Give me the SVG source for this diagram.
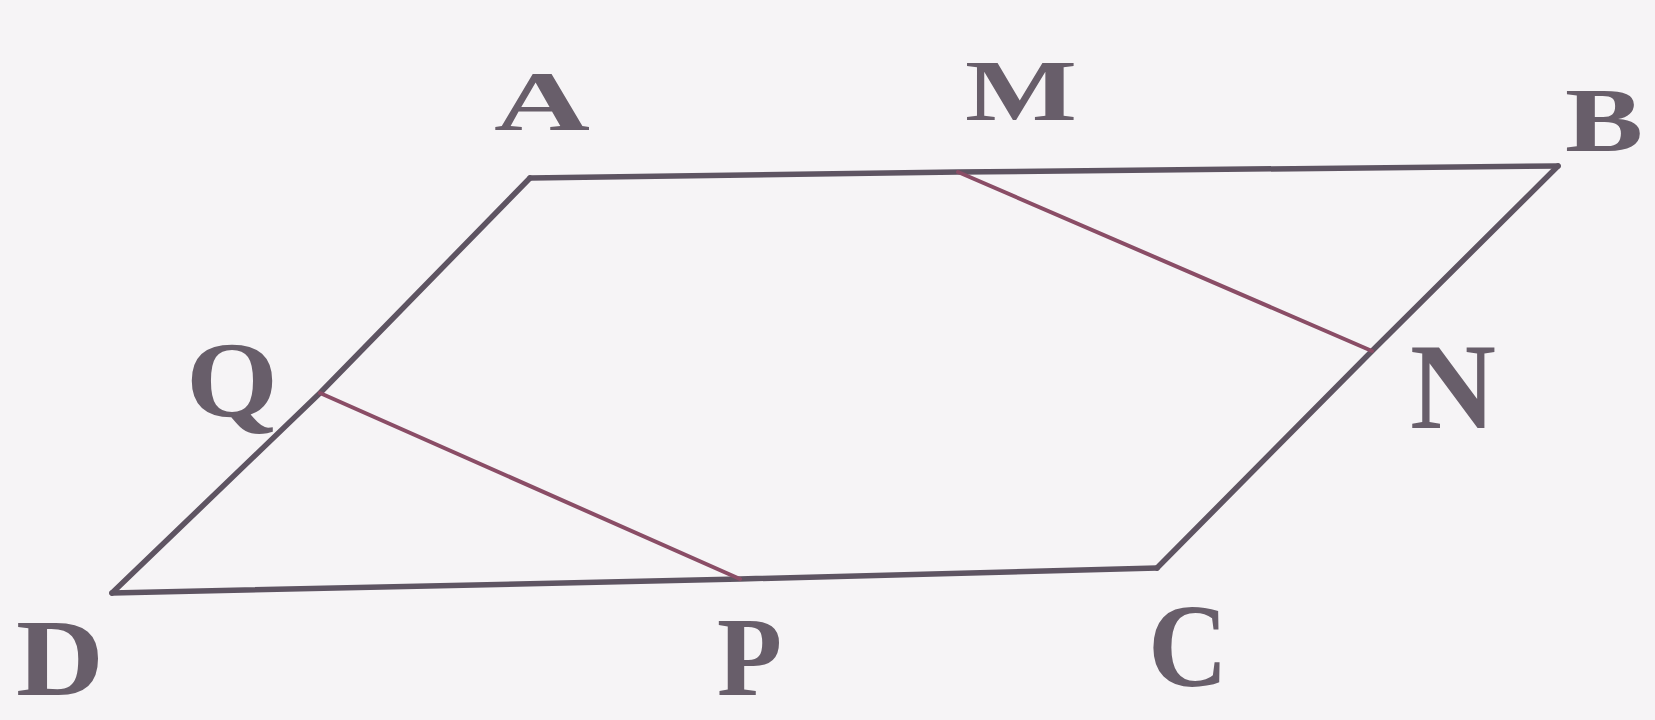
<svg xmlns="http://www.w3.org/2000/svg" width="1655" height="720" viewBox="0 0 1655 720">
<style>
.edge{fill:none;stroke:#5e5462;stroke-width:5.5;stroke-linejoin:round;stroke-linecap:round}
.seg{fill:none;stroke:#8a4d66;stroke-width:4;stroke-linecap:round}
.lbl{font-family:'Liberation Serif','Times New Roman',Times,serif;font-weight:700;fill:#685e6a}
</style>
<rect width="1655" height="720" fill="#f6f4f6"/>
<g id="connectors">
<polyline class="edge" points="530,178 958,172 1558,166"/>
<polyline class="edge" points="1558,166 1372,351 1157,568"/>
<polyline class="edge" points="1157,568 740,579 112,593"/>
<polyline class="edge" points="112,593 320,393 530,178"/>
<line class="seg" x1="958" y1="172" x2="1372" y2="351"/>
<line class="seg" x1="320" y1="393" x2="740" y2="579"/>
</g>
<g id="A"><text class="lbl" x="494" y="130" font-size="84" textLength="96" lengthAdjust="spacingAndGlyphs">A</text></g>
<g id="M"><text class="lbl" x="965" y="120" font-size="86" textLength="112" lengthAdjust="spacingAndGlyphs">M</text></g>
<g id="B"><text class="lbl" x="1565" y="151" font-size="90" textLength="78" lengthAdjust="spacingAndGlyphs">B</text></g>
<g id="Q"><text class="lbl" x="186" y="416" font-size="108" textLength="92" lengthAdjust="spacingAndGlyphs">Q</text></g>
<g id="N"><text class="lbl" x="1410" y="428" font-size="122" textLength="86" lengthAdjust="spacingAndGlyphs">N</text></g>
<g id="D"><text class="lbl" x="16" y="695" font-size="110" textLength="88" lengthAdjust="spacingAndGlyphs">D</text></g>
<g id="P"><text class="lbl" x="717" y="695" font-size="112" textLength="65" lengthAdjust="spacingAndGlyphs">P</text></g>
<g id="C"><text class="lbl" x="1148" y="686" font-size="118" textLength="80" lengthAdjust="spacingAndGlyphs">C</text></g>
</svg>
